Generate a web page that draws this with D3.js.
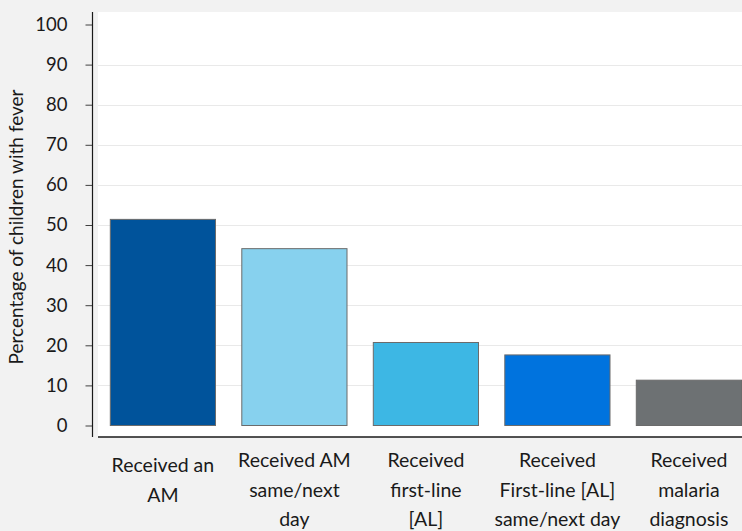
<!DOCTYPE html>
<html>
<head>
<meta charset="utf-8">
<script src="https://cdn.jsdelivr.net/npm/d3@7"></script>
<style>
  html, body { margin: 0; padding: 0; background: #f2f2f2; }
  svg { display: block; }
  text { font-family: Lato, "Open Sans", sans-serif; fill: #1a1a1a; }
</style>
</head>
<body>
<svg id="chart" width="742" height="531"></svg>
<script>
// Indicators of fever treatment, each label split into its display lines
const categories = [
  ["Received an", "AM"],
  ["Received AM", "same/next", "day"],
  ["Received", "first-line", "[AL]"],
  ["Received", "First-line [AL]", "same/next day"],
  ["Received", "malaria", "diagnosis"]
];
const values = [51.4, 44.1, 20.7, 17.6, 11.3];
const barColors = ["#00539b", "#87d1ee", "#3db7e4", "#0073de", "#6d7173"];
const yTicks = [0, 10, 20, 30, 40, 50, 60, 70, 80, 90, 100];
const yTitle = "Percentage of children with fever";

const svg = d3.select("#chart");
const W = 742, H = 531;

// Plot panel geometry
const panel = { left: 98, top: 12, bottom: 437 };
const axisX = 92.5;

const keys = categories.map((c, i) => "c" + i);

const x = d3.scaleBand()
  .domain(keys)
  .range([97.15, 754.65])
  .paddingInner(0.2)
  .paddingOuter(0.1);

const y = d3.scaleLinear()
  .domain([0, 100])
  .range([425.5, 24.5]);

// White plotting panel
svg.append("rect")
  .attr("x", panel.left).attr("y", panel.top)
  .attr("width", W - panel.left).attr("height", panel.bottom - panel.top)
  .attr("fill", "#ffffff");

// Horizontal gridlines
svg.append("g")
  .selectAll("line")
  .data(yTicks.filter(t => t > 0 && t < 100))
  .join("line")
  .attr("x1", panel.left).attr("x2", W)
  .attr("y1", d => Math.round(y(d)) + 0.5)
  .attr("y2", d => Math.round(y(d)) + 0.5)
  .attr("stroke", "#e9e9e9")
  .attr("stroke-width", 1);

// Bars
svg.append("g")
  .selectAll("rect")
  .data(values)
  .join("rect")
  .attr("x", (d, i) => x(keys[i]))
  .attr("y", d => y(d))
  .attr("width", x.bandwidth())
  .attr("height", d => y(0) - y(d))
  .attr("fill", (d, i) => barColors[i])
  .attr("stroke", "#6b6b6b")
  .attr("stroke-width", 1);

// Y axis
const yAxis = d3.axisLeft(y)
  .tickValues(yTicks)
  .tickSize(7)
  .tickPadding(18);

const gy = svg.append("g")
  .attr("transform", `translate(${axisX},0)`)
  .call(yAxis);
gy.select(".domain").remove();
gy.selectAll(".tick line").attr("stroke", "#404040");
gy.selectAll(".tick text")
  .attr("font-size", 18.5)
  .style("font-family", "Lato, sans-serif")
  .attr("fill", "#1a1a1a");

// Vertical axis line spanning the panel
svg.append("line")
  .attr("x1", axisX).attr("x2", axisX)
  .attr("y1", panel.top).attr("y2", panel.bottom)
  .attr("stroke", "#1a1a1a").attr("stroke-width", 1.2);

// Horizontal baseline of the panel
svg.append("line")
  .attr("x1", panel.left).attr("x2", W)
  .attr("y1", panel.bottom).attr("y2", panel.bottom)
  .attr("stroke", "#1a1a1a").attr("stroke-width", 1.5);

// Category labels beneath the panel
const lineH = 29.5;
const labels = svg.append("g")
  .selectAll("text")
  .data(categories)
  .join("text")
  .attr("text-anchor", "middle")
  .attr("font-size", 19.5)
  .attr("x", (d, i) => x(keys[i]) + x.bandwidth() / 2)
  .attr("y", d => d.length === 2 ? 472 : 467);

labels.selectAll("tspan")
  .data(d => d)
  .join("tspan")
  .attr("x", function () { return d3.select(this.parentNode).attr("x"); })
  .attr("dy", (d, j) => j === 0 ? 0 : lineH)
  .text(d => d);

// Y axis title
svg.append("text")
  .attr("transform", `translate(23,227) rotate(-90)`)
  .attr("text-anchor", "middle")
  .attr("font-size", 19)
  .text(yTitle);
</script>
</body>
</html>
